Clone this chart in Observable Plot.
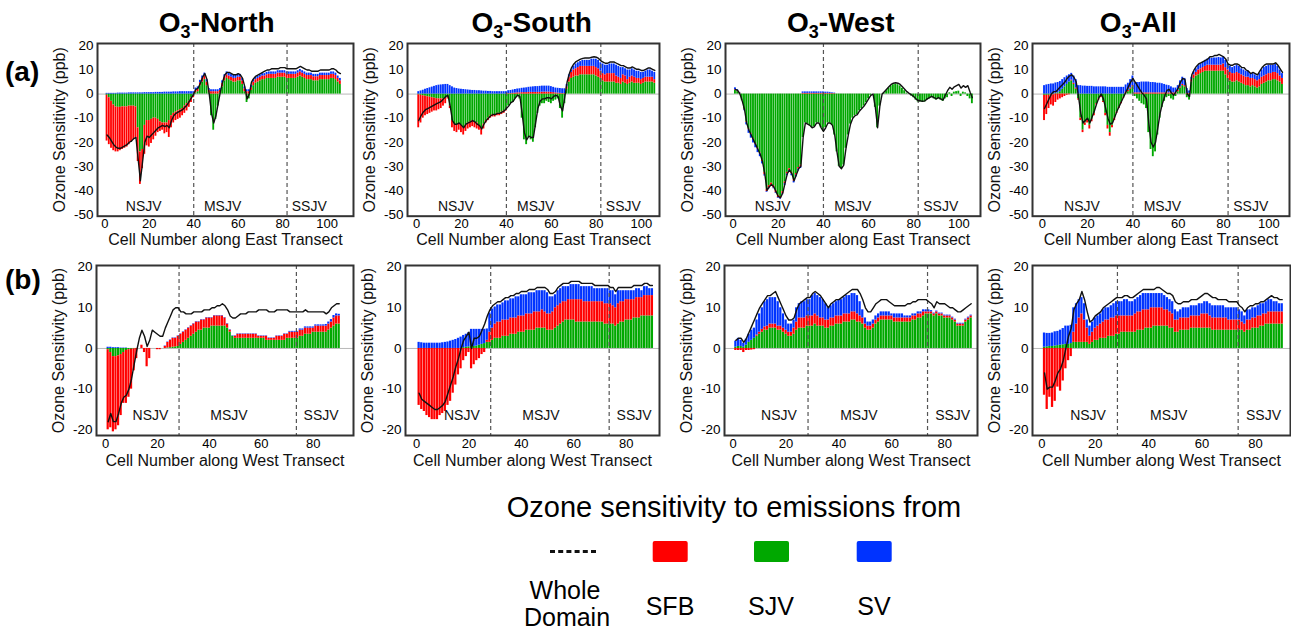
<!DOCTYPE html>
<html><head><meta charset="utf-8">
<script src="https://cdn.jsdelivr.net/npm/d3@7"></script>
<script src="https://cdn.jsdelivr.net/npm/@observablehq/plot@0.6"></script>
<style>
body{margin:0;background:#fff;}
#root{position:relative;width:1291px;height:632px;overflow:hidden;background:#fff;font-family:"Liberation Sans",Arial,sans-serif;}
.pn{position:absolute;}
.pn svg{max-width:none;}
#ann{position:absolute;left:0;top:0;}
</style></head><body><div id="root"><svg id="ann" width="1291" height="632"></svg></div>
<script>
// ---------- DATA ----------
const sources = ["SFB","SJV","SV"];
const titles = ["North","South","West","All"];
const regionNames = ["NSJV","MSJV","SSJV"];
const eastTicks = [0,20,40,60,80,100];
const westTicks = [0,20,40,60,80];
const eastYTicks = [-50,-40,-30,-20,-10,0,10,20];
const westYTicks = [-20,-10,0,10,20];
const eastDividers = [40,82];
const westDividers = [28.3,73.5];
const eastRegionX = [17.5,53,92];
const westRegionX = [17.3,47.5,83];

// O3-North, East transect
const NE_sjv=[-0.5,-1.5,-3,-4.5,-5.3,-5.5,-5.5,-5.3,-5.3,-5.3,-5,-5,-5,-5.3,-14,-24,-23,-13,-11,-11,-10.5,-10,-10,-10.5,-11.5,-12,-12,-12,-11,-9,-8,-7.5,-7,-6.5,-6,-5,-4,-3,-1.5,-0.5,0.5,1,3.5,5,6,3.5,0.5,-9,-15,-10.5,-5,0.5,3,5.5,6.5,6,5.5,5,5,5.5,5.5,4,1,-3.5,-2,1.5,3.5,4.5,5,5.5,6,6,6.5,6.5,6.5,6.5,6.5,7,7,7,7,6.5,6.5,6.5,6.5,6.5,7,7.5,7,6.5,6,6,6,5.5,5.5,5.5,6,6,6,6,6,6.5,6.5,6,5,4];
const NE_sfb=[-19,-19.5,-19.5,-19,-18.7,-18.5,-18,-17.7,-17.2,-16.7,-16,-15,-14,-12.7,-14,-13.5,-8,-12,-10.5,-11,-10,-9,-7.5,-5.5,-4,-3,-4.5,-4,-7,-5,-4,-3.5,-3.5,-3.5,-3,-3,-3,-2.5,-2,-1,1,1,1.2,1.5,1.5,1.5,1,1,1,1,1,1,1.5,1.5,1.5,1.5,1.5,1.5,1.5,1.5,1.5,1.5,1.2,1,1,1.2,1.5,1.5,1.5,1.5,1.5,1.5,1.5,1.7,1.7,1.7,1.7,1.7,1.7,1.7,1.7,1.7,1.7,1.7,1.7,1.7,1.7,1.7,1.7,1.7,1.7,1.7,1.7,1.7,1.7,1.7,1.7,1.7,1.7,1.7,1.7,1.7,1.7,1.7,1.5,1.5];
const NE_sv=[0.3,0.3,0.3,0.3,0.3,0.4,0.4,0.4,0.4,0.4,0.5,0.5,0.5,0.5,0.5,0.5,0.5,0.6,0.6,0.6,0.6,0.6,0.7,0.7,0.7,0.7,0.8,0.8,0.8,0.8,0.9,0.9,0.9,1,1,1,1,1,1,1,1,1,1,1,1.2,1,0.8,0.8,0.8,0.8,0.8,0.8,1,1,1.2,1.2,1.2,1.2,1.2,1.2,1.2,1,0.8,0.8,0.8,1,1,1,1,1,1,1,1,1,1,1,1,1,1,1,1,1,1,1,1,1,1,1,1,1,1,1,1,1,1,1,1,1,1,1,1,1,1,1,1,1];
const NE_whole=[-17,-18,-19.5,-21,-22,-22.5,-22.5,-22,-21.5,-21,-20,-19.5,-18.5,-18,-27,-36,-28,-20,-17.5,-18,-17,-16,-15,-14,-13.5,-13,-13.5,-13,-14,-11,-9,-8,-7.5,-7,-6.5,-5.5,-4.5,-3,-1.5,0,2,2.5,4.5,7,8.5,6,0,-8,-12,-9,-4,1,5,8,9,9,8.5,8,8,8.5,8,6.5,3,-2,0,5,6.5,7.5,8,8.5,9,9.5,10,10,10.5,10.5,10.5,10.5,11,11,11,10.5,10.5,10.5,10.5,10.5,11,11.5,11,10.5,10,10,9.5,9.5,9.5,9.5,10,10,10,10,10,10.5,10.5,10,9,8.5];

// O3-South, East transect
const SE_sjv=[-0.3,-0.5,-0.7,-0.9,-1.1,-1.3,-1.5,-1.7,-1.9,-2,-2,-2,-1.8,-1.5,-5,-11,-12.5,-13,-12.5,-13,-14,-13,-12,-11.5,-11,-11.5,-12,-13,-14,-12.5,-11,-10,-9,-8.5,-8.5,-8,-8,-7.5,-7,-6.5,-5,-4,-3.5,-2,-1,-2,-10,-19,-21,-18,-19,-20,-14,-8,-5,-4,-4,-3,-3.5,-4,-3,-2.5,-2,-6,-10,-4,2,5,6.5,7,7.5,7.5,8,8,8,8,8,8,8,7.5,7,6.5,5.5,5,5,5,5,5,4.5,4.5,4,5,4.5,4,4.5,5,4.5,4.5,4.5,4,4.5,5,5,5,5,4.5];
const SE_sfb=[-13.7,-11.5,-9.3,-8.1,-7.4,-6.7,-6,-5.3,-5.1,-4.5,-4,-3,-2.2,-0.5,-1,-3,-3,-3,-2.5,-3,-3,-2.5,-2.5,-2.5,-2.5,-2.5,-2.5,-2,-3,-2,-1,-1,-1,-1,-1,-1,-1,-1,-1,-0.5,0.2,0.2,0.3,0.4,0.5,0.5,0.6,0.6,0.6,0.7,0.7,0.7,0.7,0.7,0.7,0.8,0.8,0.8,0.8,0.7,0.6,0.5,0.4,0.3,0.2,0.2,1,2,2.5,3,3,3.5,3.5,3.5,3.5,3.5,3.5,3.5,3.5,3.5,3.5,3,3,3,3.5,3.5,3.5,3.5,3,2.5,2.5,3,3,2,2.5,2.5,2.5,2,2,2,2,2,2,2,2,1.5];
const SE_sv=[1,1.3,1.6,2,2.3,2.6,2.9,3.2,3.5,3.7,3.8,3.9,4,4,3.5,3,2.5,2.3,2.1,2,1.9,1.8,1.7,1.6,1.5,1.5,1.4,1.4,1.3,1.2,1.2,1.1,1.1,1,1,1,1,1,1,1,1.2,1.3,1.4,1.5,1.6,1.7,1.8,1.9,2,2.1,2.2,2.3,2.4,2.4,2.5,2.5,2.5,2.5,2.5,2.4,2.2,2,2,2,2,2,1,1,1,1.5,2,2,2,2.5,2.5,2.5,2.5,3,3,3.5,3.5,3.5,4,4,3.5,4,4,4,4.5,4.5,4.5,3,3,4,3,3,3,3,3,3,2.5,2.5,3,3,2.5,3];
const SE_whole=[-11,-9,-7.5,-6.5,-6,-5.5,-5,-4.5,-4,-3.5,-3,-2,-1,-0.5,-5,-11,-12.5,-12.5,-12,-13,-14,-12.5,-12,-11.5,-11,-11.5,-12.5,-13,-14.5,-12.5,-11,-10,-9,-8.5,-8.5,-8,-8,-7.5,-7,-6,-5,-3.5,-3,-1.5,-0.5,-1,-8,-16,-19,-17.5,-18,-18,-12,-6,-3,-2,-2,-1.5,-1.5,-2,-1,-0.5,-1,-5,-7,-1,5,8.5,11,12.5,13.5,14,14.5,14.8,15,15,15,15.3,15.5,15.3,14.8,13.8,13.3,12.8,12.8,13.3,13.3,13.3,12.8,12.3,11.8,11.8,11.3,10.8,10.8,11.3,10.8,10.3,10.3,9.8,9.8,10.3,10.8,10.8,10.3,9.8];

// O3-West, East transect
const WE_sjv=[1.5,1,0.3,-2.8,-6.3,-11.5,-14.5,-16.5,-18.5,-20.5,-22.5,-24.5,-27.5,-32.5,-39.5,-38,-37,-38,-40,-42,-42.5,-40.5,-36.5,-32.5,-31,-32.5,-35.5,-33,-30.5,-29.5,-18,-12,-12.5,-13,-14,-13.5,-12,-12,-14,-15.5,-14,-12,-12,-13,-17,-24,-30,-31,-29.5,-22.5,-17,-12.5,-10,-9,-8.5,-7,-6,-5,-3.5,-2,-0.5,0,-5.5,-14,-5,0,0.4,1.4,2.4,3.4,3.9,4.1,3.9,3.4,2.4,1.4,0.4,0,-0.8,-1.5,-2.5,-3.3,-3.3,-3.5,-3.3,-2.5,-2,-1.5,-2,-2.5,-2,-2.5,-3,-2,-1.5,0.5,-1,0.8,1,1.2,-1,0.8,0.5,-1,-2,-4];
const WE_sfb=[0.3,0.3,0.2,0,-0.3,-0.3,-0.3,-0.3,-0.3,-0.3,-0.3,-0.3,-0.5,-1,-1,-1,-1,-1,-1,-1,-1,-1,-0.7,-0.7,-0.7,-0.7,-0.7,-0.7,-0.7,-0.7,0.3,0.3,0.3,0.3,0.3,0.3,0.3,0.3,0.3,0.3,0.3,0.3,0.3,0.2,0.2,0,0,0,0,0,0,0,0,0,0,0,0,0,0,0,0,0,0,0,0,0,0,0,0,0,0,0,0,0,0,0,0,0,0,0,0,0,0,0,0,0,0,0,0,0,0,0,0,0,0,0,0,0,0,0,0,0,0,0,0,0];
const WE_sv=[0.8,0.5,0.2,0,-0.3,-1,-1.5,-1.5,-1.5,-1.5,-1.5,-1.2,-1,-0.5,-0.3,-0.3,-0.3,-0.3,-0.3,-0.3,-0.3,-0.3,-0.7,-0.7,-0.7,-0.7,-0.7,-0.7,-0.7,-0.7,0.6,0.6,0.6,0.6,0.6,0.6,0.6,0.6,0.6,0.6,0.5,0.5,0.4,0.3,0.2,0,0,0,0,0,0,0,0,0,0,0,0,0,0,0,0,0,0,0,0,0,0,0,0,0,0,0,0,0,0,0,0,0,0,0,0,0,0,0,0,0,0,0,0,0,0,0,0,0,0,0,0,0,0,0,0,0,0,0,0,0];
const WE_whole=[2,1.5,0,-2.8,-6.3,-12,-15,-17,-19,-21,-23,-25,-28,-33,-40,-38.5,-37.5,-38.5,-40.5,-42.5,-43,-41,-37,-33,-31.5,-33,-36,-33.5,-31,-30,-18,-12,-12.5,-13,-14,-13.5,-12,-12,-14,-15.5,-14,-12,-12,-13,-17,-24,-30,-31,-29.5,-22.5,-17,-12.5,-10,-9,-8.5,-7,-6,-5,-3.5,-2,-0.5,0,-5.5,-14,-5,0,1,2,3,4,4.5,4.7,4.5,4,3,2,1,0.3,-0.3,-1,-2,-2.8,-2.8,-3,-2.8,-2,-1.5,-1,-1.5,-2,-1.5,-2,-2.5,-0.5,1.4,2.8,2,3,3.5,4,2.5,3.5,2.8,3.5,0.8,-1.5];

// O3-All, East transect
const AE_sjv=[-0.5,-0.5,-0.5,-0.3,-0.3,0.3,0.5,1,2,3,4,5,5.5,4,2,-2,-10,-15,-12,-11,-13,-10.5,-8,-4,-2,-1,-3,-8,-13,-16,-13,-10,-7.5,-5.5,-3.5,-1.5,0.3,1,2,3,-1,-2,-3,-4,-4.5,-6,-16,-23,-26,-24,-17,-10,-5.5,-3,-1.5,-1,-2,-2.5,-1,1,2.5,3.5,3,-1.5,-2.5,5,6.5,7.5,8,8.5,9,9.5,9.5,9.5,9.5,9.5,9.5,9.5,9.5,9.5,8,6.5,5.5,5,5,5.5,5,4.5,4,3.5,3.5,3,3.5,3,2.5,3,4,4.5,5,5.5,5.5,6,6,5.5,5,4];
const AE_sfb=[-10.5,-8,-5.5,-4.2,-4.7,-3.5,-2.5,-2,-1.5,-1,-0.5,-0.3,0.3,0.5,0.5,-0.5,-1,-1,-1,-1,-1.5,-1,-1,-0.5,-0.5,-0.5,-0.5,-1,-1.5,-1.5,-1,-1,-0.5,-0.5,-0.5,-0.3,0.5,0.5,0.5,0.5,0.5,0.5,0.5,0.5,0.5,0.5,0.5,0.5,0.5,0.5,0.5,0.5,0.5,0.5,0.5,0.5,0.5,0.5,0.5,0.5,0.5,0.5,0.5,0.3,0.3,1,1.5,1.5,2,2,2,2,2.5,2.5,2.5,2.5,2.5,2.5,2.5,3,3,3.5,3.5,3.5,3.5,3.5,3.5,3.5,3.5,3.5,3.5,3.5,3,3,3,3,3,3,3,3,3,3,3,3,2.5,2.5];
const AE_sv=[3.5,3.8,4,4.2,4.2,4.3,4.3,4.2,4,3.8,3.5,3,2.8,3,3.5,3.5,3.5,3.3,3.3,3.2,3.2,3.2,3,3,3,3,3,3,2.8,2.8,2.8,2.8,2.8,2.8,2.8,2.8,3,3,3.5,4,4.2,4.3,4.3,4.5,4.5,4.5,4.5,4.3,4.3,4.2,4,4,3.8,3.5,3.2,3,2.5,2,2,2,2.5,3,3,2,1,1,1.2,1.5,1.8,2,2.2,2.5,2.5,2.8,2.8,3,3,3.2,3,3,3,2.5,2.5,2.5,3,3,3,2.5,2.5,2.5,2.5,2,2,2,2,2.5,3,3.5,3.5,3.5,3.5,3,3.5,3,2.5,2];
const AE_whole=[-6,-4,-2,0,1,1,2,3,4,5,6.5,7.5,8,7,5,-1,-8,-12,-11,-10,-12,-9.5,-7,-4,-1.5,0,-2,-6,-10,-12.5,-12,-9.5,-7,-5,-3,-1,1,3,5,6.5,5,3.5,2,0.5,-0.5,-2,-12,-20,-22,-20,-14,-8,-4,-1,1.5,2,0.5,-0.5,1,2.5,5,6.5,6,0,-1,8,10,11.5,12.5,13,13.5,14,14.5,15.5,15.5,16,16,16.5,16,15.5,14.5,12.5,12,12,12.5,12.5,12,11,11,10,9.5,8.5,9,8.5,8,9.5,11,12,12.5,12.5,12.5,12.5,13,12,10.5,9];

// O3-North, West transect
const NW_sjv=[-0.3,-1,-2,-2,-1.8,-1.5,-1,-0.5,-0.3,-0.2,-0.1,0,0,0,0,0,0,0,0,0,0,0,0,0.1,0.2,0.3,0.4,0.5,1,1.5,2,2.5,3,3.5,4,4.5,4.5,5,5,5,5.5,5.5,5.5,5.5,5.5,5.5,5,4,3,2.5,2.5,2.5,2.5,2.5,2.5,2.5,2.5,2.5,2.5,2.5,2.5,2,2,2,2,2,2,2,2,2.5,2.5,2.5,2.5,2.5,3,3,3.5,3.5,3.5,4,4,4,4,4,4,4.5,5,5.5,6,6];
const NW_sfb=[-19.7,-18.5,-18.5,-18,-17.2,-15,-12.5,-13,-11.7,-9.8,-5.4,-2.5,0,0.8,-1,-4.5,-2.5,0,0,-0.3,-0.3,0,0.5,1.4,1.8,2.2,2.1,2.5,2.5,2.5,2.5,2.5,2.5,2.5,2.5,2,2.5,2,2.5,2.5,2,2.5,2.5,2.5,2.5,2,1,0.5,0,0.5,1,1,1,1,1,1,1,1,0.5,0.5,0.5,1,0.5,0.5,0.5,1,1,1,1.5,1,1.5,1.5,1.5,1.5,1.5,1.5,1.5,1.5,1.5,1,1.5,1.5,1.5,1.5,1.5,1.5,1.5,2,2,2];
const NW_sv=[0.3,0.3,0.2,0.2,0.2,0.1,0.1,0.1,0,0,0,0,0,0,0,0,0,0,0,0,0,0,0.1,0.1,0.1,0.1,0.1,0.1,0.1,0.1,0.1,0.1,0.1,0.1,0.1,0.1,0.1,0.1,0.1,0.1,0.1,0.1,0.1,0.1,0.1,0.1,0.1,0.1,0.1,0.1,0.1,0.1,0.1,0.1,0.1,0.1,0.1,0.1,0.1,0.1,0.1,0.1,0.1,0.1,0.1,0.1,0.1,0.1,0.1,0.1,0.2,0.2,0.2,0.2,0.3,0.3,0.3,0.3,0.3,0.3,0.3,0.3,0.3,0.3,0.4,0.5,0.6,0.6,0.5,0.4];
const NW_whole=[-18,-16,-18,-18,-16,-13.5,-12,-11.5,-10,-7.5,-4,-0.5,2.5,4.5,3,0.5,2,4.5,4,3.5,3,3,5,6.5,8,9.5,10,10,9,9,8.5,8.5,8.5,9,9,9,9,9.5,9.5,9.5,10,10,10.5,10.5,11,10.5,9.5,8,7.5,7.5,8,8.5,8.5,8.5,9,9,9,9,9.5,9.5,9.5,9.5,9,9,9,9.5,9.5,9.5,9.5,9.5,9,9,9,9,9,9,9.5,9,9,9,9,9,9,9,8.5,9,10,10.5,11,11];

// O3-South, West transect
const SW_sjv=[0,0,0,0,0,0,0,0,0,0,0,0,0,0,0,0,0,0.2,0.3,0.4,0.5,0.5,0.6,0.8,1,1.2,1.5,1.5,2,2.5,2.5,2.5,3,3,3,3.5,3.5,3.5,4,4,4,4.5,4.5,4.5,4.5,5,5,5,5,4.5,4.5,4.5,5,5.5,6,6.5,7,7,7,7,6.5,6.5,6.5,6.5,6.5,6.5,6.5,6.5,6.5,6.5,6.5,6,6,6,6,5.5,6,6.5,6.5,7,7,7,7.5,7.5,7.5,8,8,8,8,8];
const SW_sfb=[-14,-15,-15.5,-16.5,-17,-17.5,-17.5,-17.5,-16.5,-16,-15.5,-14,-13,-11,-9,-6.5,-5,-3,-2,-1,-5,-4,-3,-2.5,-1.5,-1,0.5,2.5,3,3.5,4,4,4,4,4,4,4,4,4,4,4,4,4,4,4.5,4,4,4.5,4,4,4,4.5,5,5,5,5,4.5,5,5,5,5.5,5.5,5.5,5,5,5,5,5,5,5,5,5,5,5,4.5,4.5,5,5,5,5,5,5,4.5,5,5,4.5,5,5,5,5];
const SW_sv=[1.5,1.4,1.3,1.3,1.3,1.3,1.3,1.3,1.3,1.4,1.5,1.6,1.8,2,2.2,2.5,2.8,3,3.2,3.5,4.2,4.2,4.1,3.9,3.7,3.5,2.8,4.7,4.7,4.2,4.2,4.2,4.2,4.7,4.7,4.7,4.7,5.2,4.7,5.2,5.2,4.7,5.2,5.2,4.7,5.2,5.2,4.7,5.2,5.2,4.2,3.7,3.2,3.7,3.7,3.7,3.7,3.2,3.7,3.7,3.7,3.7,3.2,3.7,3.7,3.7,3.7,3.2,3.2,3.2,3.2,3.7,3.7,3.2,3.7,3.2,3.2,2.7,2.7,2.2,2.2,2.2,2.2,2.2,2.2,1.7,2.2,2.2,1.7,1.7];
const SW_whole=[-11,-12.5,-13,-13.5,-14,-14.5,-15,-15,-14.5,-14,-13,-11,-9,-7,-4.5,-2.5,0,2,3,4,0,2.5,2.5,3,4.5,6,8,9.5,10.5,11,11.5,11.5,12,12.5,12.5,13,13,13.5,13.5,14,14,14,14.5,14.5,14.5,15,15,15,15,14.5,13.5,13.5,14,15,15.5,16,16,16,16.5,16.5,16.5,16.5,16,16,16,16,16,15.5,15.5,15.5,15.5,15.5,15.5,15,15,14,15,15,15,15,15,15,15.5,15.5,15.5,15.5,16,16,15.5,15.5];

// O3-West, West transect
const WW_sjv=[0.3,0.5,0.5,0.3,0.8,1.5,2,2.5,3,3.5,4,4.5,4.5,5,5,5,4.5,4.5,4,3.5,3,3,3.5,4.5,5,5,5,5.5,5.5,5.5,6,5.5,5.5,5.5,5,5,5.5,5.5,6,6,6,6.5,6.5,6.5,7,7,6.5,6.5,6,5,4.5,4.5,5,6,6.5,7,7,7,7,7,6.5,6.5,6.5,6.5,6.5,6.5,6.5,7,7,7.5,7.5,8,8.5,8.5,8.5,8,8.5,8,8,7.5,7.5,7.5,7,6.5,5.5,5.5,5.5,6.5,7,7.5];
const WW_sfb=[-0.5,-0.5,-0.5,-1,-0.5,-0.5,-0.4,-0.3,0.3,0.5,0.7,0.8,1,1,1,1,1,1,1,1,1,1,1.5,2,2.5,2.5,2.5,2.5,2.5,2.5,2.5,2.5,2,2,2,2,2,2,2,2,2,2,2,2,2,2,2,1.5,1.5,1,1,1,1,1,1,1,1,1,1,1,1,1,1,1,1,1,1,1,1,1,1,1,0.5,0.5,0.5,0.5,0.5,0.5,0.5,0.5,0.5,0.5,0.5,0.5,0.5,0.5,0.5,0.5,0.5,0.5];
const WW_sv=[1.5,2,1.5,1,1.5,2,2.5,2.5,3.7,4.5,5.3,6.2,6.5,6.5,6.5,6.5,6,4.5,3.5,2.5,2,2,2,3.5,3.5,4,4,4,4,5,5,5,5,4.5,4,3,3,3.5,3.5,4,4,4,4.5,4.5,4.5,4.5,4.5,3.5,2,1.5,1,1,1,1,1,1,1,1,1,0.5,1,1,1,1,0.5,0.5,0.5,0.5,0.5,0.5,0.5,0.5,0.5,0.5,0.3,0.2,0.2,0.2,0.2,0.2,0.2,0.2,0.2,0.2,0.2,0.2,0.2,0.2,0.2,0.2];
const WW_whole=[2,2.5,2.5,1.5,2.5,4,5.5,7,8.5,10,11,12,13,13,13.5,14,12.5,11,9.5,8,7,7,7.5,9.5,11,11.5,12,12.5,12.5,13.5,14,13.5,13,12,11,10,11,11.5,12,12,12.5,13,13.5,14,14.5,14.5,14.5,13.5,12,10,9,9,10,11,11.5,12,12,12,11.5,11,10.5,10.5,10.5,10.5,10.5,11,11,11.5,11.5,12,12,12,12,11.5,11,10,11.5,11,11,11,10.5,10,10,9.5,9,9,9.5,10,10.5,11];

// O3-All, West transect
const AW_sjv=[0.3,0.4,0.5,0.5,0.6,0.7,0.8,0.9,1,1,1.2,1.5,1.5,1.5,1.5,1.5,1.5,1,1.5,2,2,2.5,2.5,2.5,3,3,3,3.5,3.5,4,4,4,4,4,4,4.5,4.5,4.5,5,5,5,5.5,5.5,5.5,5.5,5.5,5.5,5,5,4,4,4.5,4.5,4.5,4.5,5,5,5,5,5,5,5,5,4.5,4.5,4.5,4.5,4.5,4.5,4.5,4.5,4.5,4.5,4.5,4.5,4,4.5,4.5,5,5,5,5.5,5.5,6,6,6,6,6,6,6];
const AW_sfb=[-11.5,-15,-12,-14.5,-13,-9.5,-10.5,-8,-5,-3,-2,2.5,4.5,6,7,5.5,3.5,2,2.5,3,3.5,3.5,4,4.5,4,4.5,4.5,4.5,4.5,4,4,4,4,4,4.5,4.5,4.5,5,4.5,4.5,5,4.5,4.5,4.5,4.5,4,4,4,3.5,3,3,3,3,3,3,3,3,3,3,3.5,3.5,3.5,3,3,3,3,3,3,3,2.5,2.5,2.5,2.5,2.5,2,2,2.5,2.5,2.5,2.5,3,2.5,3,2.5,3,3,3,3,3,3];
const AW_sv=[3.5,3.3,3.2,3.3,3.5,3.5,3.7,4,4.5,4.5,4.5,6,5,4.5,4,4,2,2.5,2.5,2.5,2.5,2.5,3,3,3,3,3.5,3.5,3.5,3.5,4,4,3.5,3.5,3.5,3.5,4,4,4,4,3.5,3.5,3.5,3.5,3.5,3.5,3,3,3,2.5,2,2,2.5,2.5,2.5,2.5,2.5,2.5,3,2.5,3,3,3,3,3,3,3,3,2.5,3,3,3,3,2.5,2.5,2,2.5,2.5,2.5,2.5,2.5,3,2.5,3,3,3,2.5,2.5,2,2];
const AW_whole=[-6,-10,-9.5,-9.5,-8,-6,-5,-3,0,3,5,9.5,11,12,14,12,9,6.5,7,8,8.5,9,10,10.5,11,11.5,12,12.5,12.5,12.5,13,13,12.5,12.5,13,13.5,14,14.5,14.5,14.5,14.5,14.5,15,15,14.5,14,13.5,13.5,13,11.5,11,11,11.5,11.5,11.5,12,12,12,12.5,13,13.5,13.5,13,12.5,12.5,12,12,12,12,11.5,11.5,11.5,11.5,10.5,10,9,10,10.5,10.5,11,11,11.5,11.5,12,12.5,13,12.5,12.5,12,12];

// ---------- LAYOUT / STYLE ----------
const COLORS = ["#ff0000","#00a800","#0033ff"];
const FONT = "Liberation Sans, Arial, Helvetica, sans-serif";
const rowsCfg = [
  {T:43.3,B:216,yd:[-50.7,21],yticks:eastYTicks,xticks:eastTicks,div:eastDividers,rx:eastRegionX,ry:-46.5,xlabel:"Cell Number along East Transect",tp:2.5,td:23.5},
  {T:265,B:435,yd:[-21.4,20.4],yticks:westYTicks,xticks:westTicks,div:westDividers,rx:westRegionX,ry:-16.4,xlabel:"Cell Number along West Transect",tp:3.5,td:25}
];
const panels = [
  {row:0,L:97,R:353,xd:[-3.3,111.9],d:[NE_sjv,NE_sfb,NE_sv,NE_whole]},
  {row:0,L:407,R:659,xd:[-4,108.1],d:[SE_sjv,SE_sfb,SE_sv,SE_whole]},
  {row:0,L:725,R:980,xd:[-3.4,109.6],d:[WE_sjv,WE_sfb,WE_sv,WE_whole]},
  {row:0,L:1032,R:1289,xd:[-4.3,109.1],d:[AE_sjv,AE_sfb,AE_sv,AE_whole]},
  {row:1,L:96,R:353,xd:[-3.5,95.5],d:[NW_sjv,NW_sfb,NW_sv,NW_whole]},
  {row:1,L:405,R:659,xd:[-4.2,92.7],d:[SW_sjv,SW_sfb,SW_sv,SW_whole]},
  {row:1,L:724,R:977,xd:[-3.3,92.4],d:[WW_sjv,WW_sfb,WW_sv,WW_whole]},
  {row:1,L:1032,R:1290,xd:[-3.5,93.1],d:[AW_sjv,AW_sfb,AW_sv,AW_whole]}
];

const root = document.getElementById("root");
const mL = 62, mR = 4, mT = 4, mB = 40;

for (const p of panels) {
  const row = rowsCfg[p.row];
  const [sjv, sfb, sv, whole] = p.d;
  const recs = [];
  for (let i = 0; i < sjv.length; i++) {
    let pos = 0, neg = 0;
    for (const [src, arr] of [["SJV", sjv], ["SFB", sfb], ["SV", sv]]) {
      const v = arr[i];
      if (v >= 0) { recs.push({cell: i + 1, src, y1: pos, y2: pos + v}); pos += v; }
      else { recs.push({cell: i + 1, src, y1: neg, y2: neg + v}); neg += v; }
    }
  }
  const line = whole.map((v, i) => ({cell: i + 1, v}));
  const regions = regionNames.map((name, i) => ({name, x: row.rx[i]}));
  const chart = Plot.plot({
    width: p.R - p.L + mL + mR,
    height: row.B - row.T + mT + mB,
    marginLeft: mL, marginRight: mR, marginTop: mT, marginBottom: mB,
    style: {background: "transparent", overflow: "visible", fontFamily: FONT, color: "#000"},
    x: {domain: p.xd},
    y: {domain: row.yd},
    color: {domain: sources, range: COLORS},
    marks: [
      Plot.ruleY([0], {stroke: "#b8b8b8", strokeWidth: 1}),
      Plot.rect(recs, {x1: d => d.cell - 0.5, x2: d => d.cell + 0.5, y1: "y1", y2: "y2", fill: "src", insetLeft: 0.2, insetRight: 0.2}),
      Plot.ruleX(row.div, {stroke: "#555", strokeWidth: 1.2, strokeDasharray: "4,3"}),
      Plot.line(line, {x: "cell", y: "v", stroke: "#111", strokeWidth: 1.4}),
      Plot.text(regions, {x: "x", y: () => row.ry, text: "name", fontSize: 14, fill: "#111"}),
      Plot.frame({stroke: "#333", strokeWidth: 2}),
      Plot.axisX({ticks: row.xticks, tickSize: 0, tickPadding: row.tp, fontSize: 13, label: null, tickFormat: d => String(d)}),
      Plot.axisY({ticks: row.yticks, tickSize: 0, tickPadding: 4, fontSize: 13.5, label: null, tickFormat: d => String(d)}),
      Plot.text([row.xlabel], {frameAnchor: "bottom", dy: row.td, lineAnchor: "middle", fontSize: 16, fill: "#111"}),
      Plot.text(["Ozone Sensitivity (ppb)"], {frameAnchor: "left", dx: -37.5, rotate: -90, textAnchor: "middle", lineAnchor: "middle", fontSize: 16, fill: "#111"})
    ]
  });
  const div = document.createElement("div");
  div.className = "pn";
  div.style.left = (p.L - mL) + "px";
  div.style.top = (row.T - mT) + "px";
  div.appendChild(chart);
  root.appendChild(div);
}

// ---------- ANNOTATIONS (titles, row labels, legend) ----------
const ann = d3.select("#ann").style("font-family", FONT);
const titleX = [216.7, 531.7, 840.8, 1138.3];
titles.forEach((t, i) => {
  const tx = ann.append("text").attr("x", titleX[i]).attr("y", 32).attr("text-anchor", "middle")
    .attr("font-size", 28).attr("font-weight", "bold").attr("fill", "#000");
  tx.append("tspan").text("O");
  tx.append("tspan").attr("font-size", 18).attr("dy", 6).text("3");
  tx.append("tspan").attr("dy", -6).text("-" + t);
});
ann.append("text").attr("x", 5).attr("y", 81).attr("font-size", 28).attr("font-weight", "bold").text("(a)");
ann.append("text").attr("x", 5).attr("y", 289).attr("font-size", 28).attr("font-weight", "bold").text("(b)");

ann.append("text").attr("x", 734).attr("y", 517).attr("text-anchor", "middle").attr("font-size", 29).text("Ozone sensitivity to emissions from");
ann.append("line").attr("x1", 550).attr("x2", 599).attr("y1", 551.5).attr("y2", 551.5)
  .attr("stroke", "#111").attr("stroke-width", 3).attr("stroke-dasharray", "5,3.2");
const swX = [652.7, 754, 856.7];
swX.forEach((x, i) => {
  ann.append("rect").attr("x", x).attr("y", 541).attr("width", 35).attr("height", 21).attr("rx", 2).attr("fill", COLORS[i]);
});
ann.append("text").attr("x", 565).attr("y", 599).attr("text-anchor", "middle").attr("font-size", 25).text("Whole");
ann.append("text").attr("x", 567).attr("y", 626).attr("text-anchor", "middle").attr("font-size", 25).text("Domain");
const legX = [670, 771, 874];
sources.forEach((s, i) => {
  ann.append("text").attr("x", legX[i]).attr("y", 615).attr("text-anchor", "middle").attr("font-size", 25).text(s);
});
</script>
</body></html>
